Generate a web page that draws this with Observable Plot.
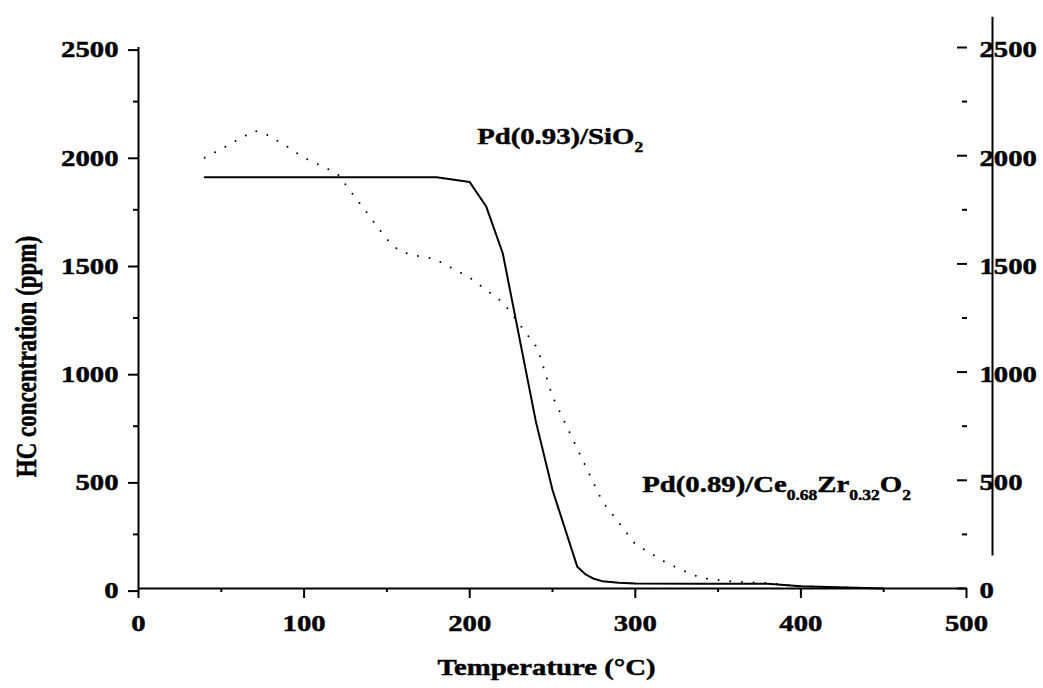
<!DOCTYPE html>
<html>
<head>
<meta charset="utf-8">
<script src="https://cdn.jsdelivr.net/npm/d3@7"></script>
<script src="https://cdn.jsdelivr.net/npm/@observablehq/plot@0.6"></script>
<style>
  body { margin: 0; background: #fff; }
  #chart svg text { stroke: #000; stroke-width: 0.45px; }
</style>
</head>
<body>
<div id="chart"></div>
<script>
// Light-off curve of Pd(0.93)/SiO2 (solid line)
const tempSiO2 = [40, 60, 80, 100, 120, 140, 160, 180, 200, 210, 220, 240, 250, 265, 270, 275, 280, 290, 300, 340, 380, 400, 450];
const hcSiO2   = [1900, 1900, 1900, 1900, 1900, 1900, 1900, 1900, 1878, 1765, 1548, 770, 455, 100, 65, 45, 34, 27, 23, 22, 22, 10, 0];

// Light-off curve of Pd(0.89)/Ce0.68Zr0.32O2 (dotted line)
const tempCZ = [40, 70, 76, 90, 100, 120, 150, 157, 165, 172, 179, 200, 220, 241, 250, 280, 300, 320, 340, 360, 380, 400, 450];
const hcCZ   = [1990, 2115, 2104, 2041, 1990, 1918, 1613, 1563, 1540, 1533, 1522, 1437, 1323, 1110, 887, 404, 205, 113, 47, 32, 25, 10, 0];

// Axis ticks
const xMajor = [0, 100, 200, 300, 400, 500];
const xMinor = [50, 150, 250, 350, 450];
const yMajor = [0, 500, 1000, 1500, 2000, 2500];
const yMinor = [250, 750, 1250, 1750, 2250];

// Titles and series labels (pieces flagged true are subscripts)
const xTitle = "Temperature (°C)";
const yTitle = "HC concentration (ppm)";
const labelSiO2 = [["Pd(0.93)/SiO", false], ["2", true]];
const labelCZ = [["Pd(0.89)/Ce", false], ["0.68", true], ["Zr", false], ["0.32", true], ["O", false], ["2", true]];

// Where each series label sits, in data units
const labelAnchors = [
  {t: 204.5, hc: 2086, parts: labelSiO2},
  {t: 304.2, hc: 479, parts: labelCZ}
];

// Typography / layout
const FONT = "'Liberation Serif', 'Times New Roman', serif";
const GLYPH_STRETCH = 1.25;      // wide serif lettering
const SUB_SIZE = 14;
const SUB_SHIFT = 7.6;
const rightSpine = {offset: 26, from: 150, to: 2640};

const siO2 = tempSiO2.map((t, i) => ({t, hc: hcSiO2[i]}));
const cz = tempCZ.map((t, i) => ({t, hc: hcCZ[i]}));
const plain = (parts) => parts.map((p) => p[0]).join("");
const fmt = (d) => String(d);

const chart = Plot.plot({
  width: 1043,
  height: 688,
  marginLeft: 138,
  marginRight: 77,
  marginTop: 47,
  marginBottom: 100,
  x: {domain: [0, 500], label: null},
  y: {domain: [0, 2500], label: null},
  style: {fontFamily: FONT, fontSize: "23px", fontWeight: "bold", color: "#000", background: "#fff", overflow: "visible"},
  marks: [
    // bottom axis
    Plot.axisX({ticks: xMajor, tickSize: 10, tickPadding: 16, strokeWidth: 2, tickFormat: fmt, label: null}),
    Plot.axisX({ticks: xMinor, tickSize: 4, strokeWidth: 2, text: null, label: null}),
    // left axis
    Plot.axisY({ticks: yMajor, tickSize: 10, tickPadding: 10, dy: 2.6, strokeWidth: 2, tickFormat: fmt, label: null}),
    Plot.axisY({ticks: yMinor, tickSize: 5, strokeWidth: 2, text: null, label: null}),
    // right axis: inward ticks, labels further out
    Plot.axisY({anchor: "right", ticks: yMajor, tickSize: -10, strokeWidth: 2, text: null, label: null}),
    Plot.axisY({anchor: "right", ticks: yMinor, tickSize: -5, strokeWidth: 2, text: null, label: null}),
    Plot.axisY({anchor: "right", ticks: yMajor, tickSize: 0, tickPadding: 13, dy: 2.6, tickFormat: fmt, label: null}),
    Plot.ruleX([500], {dx: rightSpine.offset, y1: rightSpine.from, y2: rightSpine.to, stroke: "#000", strokeWidth: 2}),
    // spines
    Plot.ruleX([0], {stroke: "#000", strokeWidth: 2}),
    Plot.ruleY([0], {stroke: "#000", strokeWidth: 2}),
    // curves
    Plot.line(cz, {x: "t", y: "hc", stroke: "#000", strokeWidth: 2, strokeLinecap: "round", strokeDasharray: "0 11.7"}),
    Plot.line(siO2, {x: "t", y: "hc", stroke: "#000", strokeWidth: 2}),
    // series labels
    Plot.text(labelAnchors, {x: "t", y: "hc", text: (d) => plain(d.parts), textAnchor: "start", lineAnchor: "middle", fill: "#000"}),
    // axis titles
    Plot.text([xTitle], {text: (d) => d, frameAnchor: "bottom", dx: -6, dy: 79, textAnchor: "middle", lineAnchor: "middle", fill: "#000"}),
    Plot.text([yTitle], {text: (d) => d, frameAnchor: "left", rotate: -90, dx: -111.6, dy: 38.5, textAnchor: "middle", lineAnchor: "middle", fill: "#000"})
  ]
});

document.getElementById("chart").appendChild(chart);

const NS = "http://www.w3.org/2000/svg";

// Rebuild series labels with subscripts
labelAnchors.forEach((a) => {
  const target = plain(a.parts);
  chart.querySelectorAll("text").forEach((t) => {
    if (t.textContent !== target) return;
    t.textContent = "";
    let shifted = false;
    a.parts.forEach(([s, sub]) => {
      const ts = document.createElementNS(NS, "tspan");
      ts.textContent = s;
      if (sub) {
        ts.setAttribute("font-size", SUB_SIZE);
        if (!shifted) ts.setAttribute("dy", SUB_SHIFT);
        shifted = true;
      } else {
        ts.setAttribute("font-size", 23);
        if (shifted) ts.setAttribute("dy", -SUB_SHIFT);
        shifted = false;
      }
      t.appendChild(ts);
    });
  });
});

// Widen every text horizontally around its anchor point
chart.querySelectorAll("text").forEach((t) => {
  const b = t.getBBox();
  const anchor = getComputedStyle(t).textAnchor;
  const lx = anchor === "end" ? b.x + b.width : anchor === "middle" ? b.x + b.width / 2 : b.x;
  const ly = b.y + b.height / 2;
  const c = t.transform.baseVal.consolidate();
  const M = c ? c.matrix : chart.createSVGMatrix();
  const px = M.a * lx + M.c * ly + M.e;
  const py = M.b * lx + M.d * ly + M.f;
  const g = document.createElementNS(NS, "g");
  g.setAttribute("transform", `translate(${px},${py}) scale(${GLYPH_STRETCH},1) translate(${-px},${-py})`);
  t.parentNode.insertBefore(g, t);
  g.appendChild(t);
});
</script>
</body>
</html>
